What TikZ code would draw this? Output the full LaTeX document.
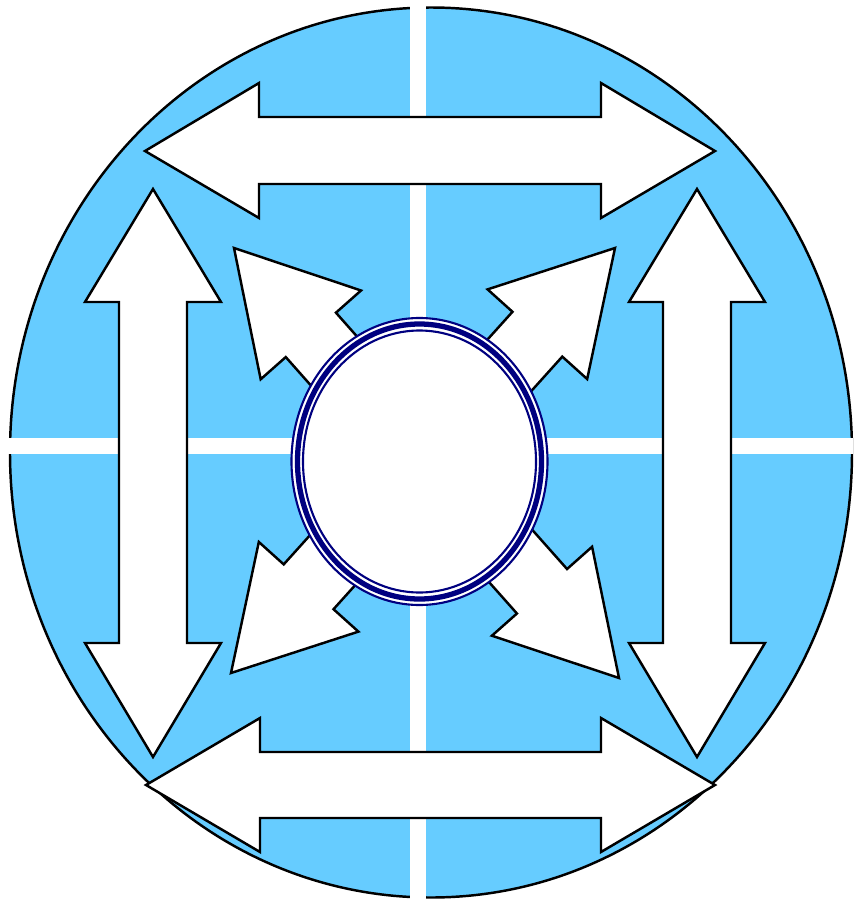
\documentclass[tikz,border=0pt]{standalone}
\definecolor{skyblue}{HTML}{66CCFF}
\definecolor{ringnavy}{HTML}{000080}
\begin{document}
\begin{tikzpicture}[x=0.02cm,y=-0.02cm,
  whitearrow/.style={draw=black,fill=white,line width=1.4pt,line join=miter},
  ringline/.style={draw=ringnavy,line width=1.2pt}]
\useasboundingbox (0,0) rectangle (853,900);
\draw[fill=skyblue,line width=1.4pt] (431,452.5) ellipse [x radius=421,y radius=445];
\fill[white] (410,0) rectangle (426,900);
\fill[white] (0,438) rectangle (853,454);
\draw[whitearrow] (145,151) -- (259,83) -- (259,117) -- (601,117) -- (601,83) -- (715,151) -- (601,218) -- (601,184) -- (259,184) -- (259,218) -- cycle;
\draw[whitearrow] (146,785) -- (260,718) -- (260,752) -- (601,752) -- (601,718) -- (715,785) -- (601,852) -- (601,818) -- (260,818) -- (260,852) -- cycle;
\draw[whitearrow] (153,189) -- (221,302) -- (187,302) -- (187,643) -- (221,643) -- (153,757) -- (85,643) -- (119,643) -- (119,302) -- (85,302) -- cycle;
\draw[whitearrow] (697,189) -- (765,302) -- (731,302) -- (731,643) -- (765,643) -- (697,757) -- (629,643) -- (663,643) -- (663,302) -- (629,302) -- cycle;
\foreach \tx/\ty/\ang in {234/248/-48.5, 615/248/-132, 619/678/131.6, 231/673/48}{
  \begin{scope}[shift={(\tx,\ty)},rotate=\ang]
    \draw[whitearrow] (0,0) -- (116,-67) -- (116,-33.5) -- (250,-33.5) -- (250,33.5) -- (116,33.5) -- (116,67) -- cycle;
  \end{scope}
}
\draw[ringline,fill=white] (419.5,461.5) ellipse [x radius=128,y radius=143.5];
\draw[ringline,line width=3pt] (419.5,461.5) ellipse [x radius=122,y radius=137.5];
\draw[ringline] (419.5,461.5) ellipse [x radius=116.5,y radius=131];
\end{tikzpicture}
\end{document}
